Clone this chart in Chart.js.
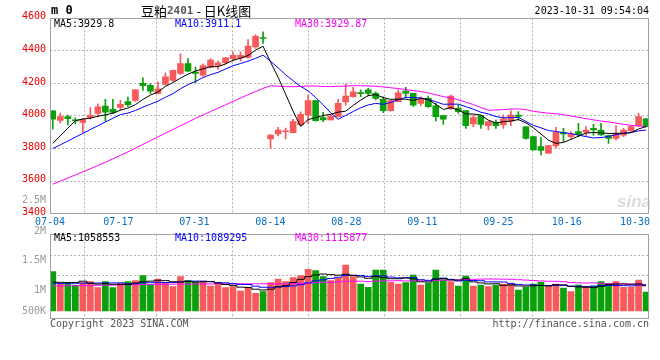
<!DOCTYPE html>
<html><head><meta charset="utf-8">
<script src="https://cdn.jsdelivr.net/npm/chart.js@4/dist/chart.umd.min.js"></script>
<style>
html,body{margin:0;padding:0;background:#fff;}
#wrap{position:relative;width:660px;height:360px;overflow:hidden;}
canvas{position:absolute;left:0;top:0;}
</style></head><body>
<div id="wrap"><canvas id="k" width="660" height="360"></canvas><canvas id="v" width="660" height="360"></canvas></div>
<script>
// ---------- data ----------
const DATES = ['07-04','07-05','07-06','07-07','07-10','07-11','07-12','07-13','07-14','07-17','07-18','07-19','07-20','07-21','07-24','07-25','07-26','07-27','07-28','07-31',
'08-01','08-02','08-03','08-04','08-07','08-08','08-09','08-10','08-11','08-14','08-15','08-16','08-17','08-18','08-21','08-22','08-23','08-24','08-25','08-28','08-29','08-30','08-31',
'09-01','09-04','09-05','09-06','09-07','09-08','09-11','09-12','09-13','09-14','09-15','09-18','09-19','09-20','09-21','09-22','09-25','09-26','09-27','09-28',
'10-09','10-10','10-11','10-12','10-13','10-16','10-17','10-18','10-19','10-20','10-23','10-24','10-25','10-26','10-27','10-30','10-31'];
const OPEN  = [4032,3973,3996,3975,3960,3990,4016,4061,4041,4052,4088,4096,4200,4188,4137,4194,4218,4261,4322,4269,4251,4300,4310,4327,4351,4357,4360,4425,4482,3859,3890,3903,3898,3945,4006,4094,3990,3976,3996,4086,4118,4141,4160,4139,4102,4033,4088,4153,4139,4078,4108,4063,4002,4045,4047,4033,3951,4002,3941,3961,3945,3969,4006,3934,3873,3812,3771,3816,3898,3873,3904,3900,3924,3914,3879,3863,3883,3910,3941,3982];
const HIGH  = [4034,4018,4006,3988,3985,4051,4075,4102,4102,4096,4116,4163,4235,4198,4210,4265,4282,4382,4353,4300,4320,4353,4337,4361,4394,4394,4470,4500,4517,3886,3930,3926,3980,4026,4129,4096,4023,4002,4102,4196,4176,4160,4170,4148,4118,4100,4160,4176,4141,4118,4123,4078,4004,4129,4067,4035,4006,4006,3968,3975,4006,4031,4027,3936,3875,3867,3820,3930,3924,3904,3955,3935,3949,3955,3883,3941,3924,3937,4016,3984];
const LOW   = [3919,3957,3945,3952,3898,3980,3994,3969,4014,4035,4059,4090,4157,4137,4135,4190,4212,4255,4272,4204,4245,4296,4286,4320,4337,4337,4354,4415,4446,3802,3877,3860,3896,3942,3955,3969,3965,3975,3994,4067,4116,4118,4123,4098,4020,4030,4086,4112,4059,4063,4053,3969,3949,4040,4016,3924,3934,3924,3914,3924,3924,3941,3975,3857,3790,3761,3769,3802,3843,3863,3873,3879,3883,3880,3832,3853,3873,3904,3935,3933];
const CLOSE = [3980,3997,3984,3970,3978,4004,4057,4024,4022,4071,4070,4161,4186,4153,4167,4241,4280,4322,4276,4261,4310,4343,4327,4357,4373,4373,4429,4490,4476,3883,3914,3908,3965,4010,4094,3971,3976,4000,4078,4123,4149,4137,4139,4108,4033,4094,4143,4139,4066,4102,4057,3996,3980,4122,4027,3941,3990,3949,3965,3941,3982,4006,3997,3863,3792,3788,3818,3900,3890,3887,3887,3914,3914,3884,3863,3894,3914,3935,3996,3935];
const MA5  = [3832,3878,3925,3971,3981.8,3986.6,3998.6,4006.6,4017,4035.6,4048.8,4069.6,4102,4128.2,4147.4,4181.6,4205.4,4232.6,4257.2,4276,4289.8,4302.4,4303.4,4319.6,4342,4354.6,4371.8,4404.4,4428.2,4330.2,4238.4,4134.2,4029.2,3936,3978.2,3989.6,4003.2,4010.2,4023.8,4029.6,4065.2,4097.4,4125.2,4131.2,4113.2,4102.2,4103.4,4103.4,4095,4108.8,4101.4,4072,4040.2,4051.4,4036.4,4013.2,4012,4005.8,3974.4,3957.2,3965.4,3968.6,3978.2,3957.8,3928,3889.2,3851.6,3832.2,3837.6,3856.6,3876.4,3895.6,3898.4,3897.2,3892.4,3893.8,3893.8,3898,3920.4,3934.8];
const MA10 = [3800,3823,3846,3870,3893,3917,3940,3963,3986,4008.7,4017.7,4034.1,4054.3,4072.6,4091.5,4115.2,4137.5,4167.3,4192.7,4211.7,4235.7,4253.9,4268,4288.4,4309,4322.2,4337.1,4353.9,4373.9,4336.1,4296.5,4253,4216.8,4182.1,4154.2,4114,4068.7,4019.7,3979.9,4003.9,4027.4,4050.3,4067.7,4077.5,4071.4,4083.7,4100.4,4114.3,4113.1,4111,4101.8,4087.7,4071.8,4073.2,4072.6,4057.3,4042,4023,4012.9,3996.8,3989.3,3990.3,3992,3966.1,3942.6,3927.3,3910.1,3905.2,3897.7,3892.3,3882.8,3873.6,3865.3,3867.4,3874.5,3885.1,3894.7,3898.2,3908.8,3913.6];
const MA30 = [3581,3600,3619,3638,3657,3676,3695,3716,3737,3758,3780,3803,3826,3849,3872,3895,3917,3940,3962,3985,4006,4027,4048,4069,4089,4110,4131,4150,4170,4185.5,4183.3,4180.3,4179.7,4181,4184.9,4183.8,4181.1,4180.3,4182.2,4183.9,4186.5,4185.7,4184.2,4182.7,4178.2,4173.3,4168.7,4162.6,4155.6,4150.3,4141.9,4130.3,4118.8,4110.9,4099.4,4085,4070.4,4052.3,4035.3,4037.2,4039.5,4042.8,4043.8,4038.9,4028.9,4022.8,4017.5,4014.2,4007.9,4000,3991.3,3983.9,3976.4,3968.9,3963.2,3956.6,3948.9,3942.1,3939.8,3934.2];
const VOLUME = [1651000,1163000,1163000,1092000,1189000,1231000,979000,1231000,979000,1163000,1231000,1273000,1483000,1121000,1344000,1163000,1021000,1441000,1273000,1205000,1205000,1050000,1121000,979000,1021000,840000,995000,743000,811000,1189000,1344000,1231000,1399000,1483000,1751000,1693000,1441000,1273000,1373000,1932000,1441000,1134000,995000,1722000,1722000,1205000,1134000,1189000,1512000,1092000,1176000,1722000,1315000,1231000,1050000,1470000,1050000,1092000,1021000,1092000,1134000,1134000,882000,995000,1134000,1205000,1050000,1134000,966000,811000,1092000,995000,1050000,1231000,1163000,1231000,995000,995000,1302000,798000];
const VMA5  = [1215000,1205000,1195000,1200000,1252000,1168000,1131000,1144000,1122000,1117000,1117000,1175000,1226000,1254000,1290000,1277000,1226000,1218000,1248000,1221000,1229000,1235000,1171000,1112000,1075000,1002000,991000,916000,882000,916000,1016000,1064000,1195000,1329000,1442000,1511000,1553000,1528000,1506000,1542000,1492000,1431000,1375000,1445000,1403000,1356000,1356000,1394000,1352000,1226000,1221000,1338000,1363000,1307000,1299000,1358000,1223000,1179000,1137000,1145000,1078000,1095000,1053000,1047000,1056000,1070000,1053000,1104000,1098000,1033000,1011000,1000000,983000,1036000,1106000,1134000,1134000,1123000,1137000,1058553];
const VMA10 = [1160000,1160000,1165000,1165000,1170000,1170000,1175000,1178000,1180000,1184000,1142000,1153000,1185000,1188000,1204000,1197000,1201000,1222000,1251000,1256000,1253000,1231000,1194000,1180000,1148000,1116000,1113000,1043000,997000,995000,1009000,1027000,1055000,1106000,1179000,1264000,1309000,1362000,1418000,1492000,1502000,1492000,1452000,1476000,1473000,1424000,1393000,1385000,1399000,1315000,1288000,1347000,1379000,1330000,1263000,1289000,1281000,1271000,1222000,1222000,1218000,1159000,1116000,1092000,1100000,1074000,1074000,1078000,1073000,1045000,1040000,1026000,1043000,1067000,1070000,1072000,1067000,1053000,1087000,1089295];
const VMA30 = [1050000,1055000,1060000,1065000,1070000,1075000,1080000,1085000,1090000,1095000,1100000,1105000,1110000,1115000,1120000,1125000,1128000,1130000,1132000,1134000,1136000,1138000,1140000,1140000,1141000,1142000,1142000,1143000,1144000,1145000,1135000,1137000,1145000,1158000,1177000,1192000,1207000,1209000,1222000,1248000,1255000,1250000,1234000,1254000,1266000,1268000,1272000,1263000,1271000,1267000,1266000,1289000,1295000,1304000,1305000,1326000,1327000,1339000,1346000,1343000,1336000,1333000,1315000,1299000,1279000,1262000,1249000,1245000,1231000,1194000,1182000,1177000,1179000,1163000,1144000,1145000,1140000,1134000,1127000,1115877];
const DATE_TICK_IDX = [0,9,19,29,39,49,59,68,78];
const PRICE_TICKS = [3400,3600,3800,4000,4200,4400,4600];
const VOL_GRID_TICKS = [672000,1512000,2352000];
const VOL_AXIS_LABELS = ['2.5M','2M','1.5M','1M','500K'];
const TITLE_PARTS = ['豆粕','2401',' - 日K线图'];
const SYMBOL_TEXT = 'm 0';
const STAMP = '2023-10-31 09:54:04';
const PRICE_LEGEND = ['MA5:3929.8','MA10:3911.1','MA30:3929.87'];
const VOL_LEGEND = ['MA5:1058553','MA10:1089295','MA30:1115877'];
const FOOT_LEFT = 'Copyright 2023 SINA.COM';
const FOOT_RIGHT = 'http://finance.sina.com.cn';

// ---------- style ----------
const MONO = '"DejaVu Sans Mono","Liberation Mono",monospace';
const UP = '#f65a5a', DOWN = '#0ca00c';
const GRID = '#b4b4b4', FRAME = '#a0a0a0';
const MA_COLORS = ['#000000','#0000ff','#ff00ff'];
const X_MIN = -0.373, X_MAX = 79.43;       // chart area spans slightly beyond first/last candle
const GRID_STEP = 7.6/7.51;                 // sina draws date grid with a slightly wider step
const LAST_LABEL_POS = 77.52;               // last date label kept inside the frame
const IDX = DATES.map((_, i) => i);
const upAt = i => CLOSE[i] >= OPEN[i];
const barColor = c => upAt(c.dataIndex) ? UP : DOWN;
const tickValue = (k, n) => n === DATE_TICK_IDX.length - 1 ? LAST_LABEL_POS : X_MIN + k * GRID_STEP;

function put(ctx, s, x, y, color, font, align) {
  ctx.font = font; ctx.fillStyle = color; ctx.textAlign = align || 'left'; ctx.textBaseline = 'middle';
  ctx.fillText(s, x, y);
  return ctx.measureText(s).width;
}
const framePlugin = {
  id: 'frame',
  afterDatasetsDraw(chart) {
    const {ctx, chartArea: a} = chart;
    ctx.save(); ctx.strokeStyle = FRAME; ctx.lineWidth = 1;
    ctx.strokeRect(Math.round(a.left) + 0.5, Math.round(a.top) + 0.5, Math.round(a.right - a.left) - 1, Math.round(a.bottom - a.top));
    ctx.restore();
  }
};
const xGridColor = c => (c.index === DATE_TICK_IDX.length - 1 ? 'rgba(0,0,0,0)' : GRID);
function xScale(showLabels) {
  return {
    type: 'linear', min: X_MIN, max: X_MAX, offset: false,
    afterBuildTicks: s => { s.ticks = DATE_TICK_IDX.map((k, n) => ({value: tickValue(k, n)})); },
    afterFit: s => { s.height = showLabels ? 15 : 0; },
    ticks: {display: showLabels, autoSkip: false, maxRotation: 0, padding: 3, color: '#0a6fc6',
            font: {family: MONO, size: 10}, callback: (v, n) => DATES[DATE_TICK_IDX[n]]},
    grid: {color: xGridColor, lineWidth: 1, drawTicks: false},
    border: {display: false, dash: [2, 2]}
  };
}
function lineSet(label, arr, color, stepped) {
  return {type: 'line', label, data: IDX.map(i => ({x: i, y: arr[i]})), borderColor: color, borderWidth: 1,
          pointRadius: 0, tension: 0, stepped: stepped || false, order: 0};
}

// ---------- price chart ----------
const headerPlugin = {
  id: 'header',
  afterDraw(chart) {
    const ctx = chart.ctx; ctx.save();
    put(ctx, SYMBOL_TEXT, 51, 11, '#000', 'bold 12px ' + MONO);
    let x = 141;
    x += put(ctx, TITLE_PARTS[0], x, 11, '#000', '13px "Noto Sans CJK SC"');
    x += put(ctx, TITLE_PARTS[1], x, 11, '#555', 'bold 11px ' + MONO);
    put(ctx, TITLE_PARTS[2], x, 11, '#000', '13px "Noto Sans CJK SC"');
    put(ctx, STAMP, 649, 11, '#000', '10px ' + MONO, 'right');
    [54, 175, 295].forEach((px, n) => put(ctx, PRICE_LEGEND[n], px, 24, MA_COLORS[n], '10px ' + MONO));
    put(ctx, VOL_AXIS_LABELS[0], 46, 200, '#999', '10px ' + MONO, 'right');
    put(ctx, 'sina', 634, 202, 'rgba(190,190,190,0.55)', 'italic bold 17px "Liberation Sans"', 'center');
    ctx.restore();
  }
};
new Chart(document.getElementById('k'), {
  type: 'bar',
  data: {datasets: [
    lineSet('MA5', MA5, MA_COLORS[0]),
    lineSet('MA10', MA10, MA_COLORS[1]),
    lineSet('MA30', MA30, MA_COLORS[2]),
    {label: 'body', data: IDX.map(i => ({x: i, y: [OPEN[i], CLOSE[i]]})), backgroundColor: barColor,
     barThickness: 6, minBarLength: 1, grouped: false, borderWidth: 0, order: 1},
    {label: 'wick', data: IDX.map(i => ({x: i, y: [LOW[i], HIGH[i]]})), backgroundColor: barColor,
     barThickness: 1, grouped: false, borderWidth: 0, order: 2}
  ]},
  options: {
    responsive: false, animation: false, devicePixelRatio: 1,
    layout: {padding: {top: 18.3, left: 0, right: 10.7, bottom: 131.3}},
    plugins: {legend: {display: false}, tooltip: {enabled: false}},
    scales: {
      x: xScale(true),
      y: {min: 3400, max: 4600,
          afterBuildTicks: s => { s.ticks = PRICE_TICKS.map(v => ({value: v})); },
          afterFit: s => { s.width = 50; },
          ticks: {color: '#e60000', font: {family: MONO, size: 10}, padding: 4, labelOffset: -1.5,
                  callback: v => String(v)},
          grid: {color: GRID, lineWidth: 1, drawTicks: false},
          border: {display: false, dash: [2, 2]}}
    }
  },
  plugins: [framePlugin, headerPlugin]
});

// ---------- volume chart ----------
const volTextPlugin = {
  id: 'voltext',
  afterDraw(chart) {
    const ctx = chart.ctx; ctx.save();
    [54, 175, 295].forEach((px, n) => put(ctx, VOL_LEGEND[n], px, 238.5, MA_COLORS[n], '10px ' + MONO));
    [231.5, 260, 290.5, 311].forEach((py, n) => put(ctx, VOL_AXIS_LABELS[n + 1], 46, py, '#999', '10px ' + MONO, 'right'));
    put(ctx, FOOT_LEFT, 50, 324, '#555', '10px ' + MONO);
    put(ctx, FOOT_RIGHT, 649, 324, '#555', '10px ' + MONO, 'right');
    ctx.restore();
  }
};
new Chart(document.getElementById('v'), {
  type: 'bar',
  data: {datasets: [
    lineSet('VMA5', VMA5, MA_COLORS[0], 'middle'),
    lineSet('VMA10', VMA10, MA_COLORS[1], 'middle'),
    lineSet('VMA30', VMA30, MA_COLORS[2], 'middle'),
    {label: 'vol', data: IDX.map(i => ({x: i, y: VOLUME[i]})), backgroundColor: barColor,
     barThickness: 6, grouped: false, borderWidth: 0, order: 1}
  ]},
  options: {
    responsive: false, animation: false, devicePixelRatio: 1,
    layout: {padding: {top: 234.3, left: 0, right: 10.7, bottom: 41.7}},
    plugins: {legend: {display: false}, tooltip: {enabled: false}},
    scales: {
      x: xScale(false),
      y: {min: -306600, max: 3221400,
          afterBuildTicks: s => { s.ticks = VOL_GRID_TICKS.map(v => ({value: v})); },
          afterFit: s => { s.width = 50; },
          ticks: {display: false},
          grid: {color: GRID, lineWidth: 1, drawTicks: false},
          border: {display: false, dash: [2, 2]}}
    }
  },
  plugins: [framePlugin, volTextPlugin]
});
</script>
</body></html>
